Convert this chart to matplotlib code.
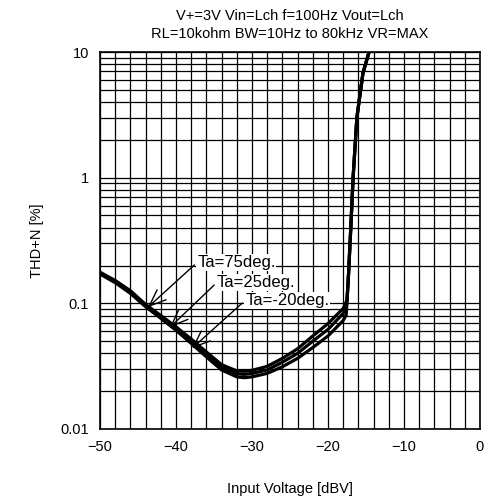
import numpy as np
import matplotlib.pyplot as plt
from matplotlib.ticker import FixedLocator, FuncFormatter

plt.rcParams['font.family'] = ['Liberation Sans', 'DejaVu Sans']

# ===============================
# data
# ===============================
x_low = [-50, -48, -46, -44, -42, -40, -38, -36, -34, -32, -31, -30,
         -28, -26, -24, -22, -20, -18, -17.6]
thd_75 = [0.177, 0.152, 0.126, 0.098, 0.080, 0.065, 0.052, 0.041, 0.0325,
          0.029, 0.0288, 0.0293, 0.0315, 0.0365, 0.0435, 0.055, 0.069, 0.091, 0.103]
thd_25 = [0.174, 0.149, 0.123, 0.096, 0.078, 0.063, 0.050, 0.039, 0.031,
          0.0275, 0.0272, 0.0277, 0.0295, 0.034, 0.040, 0.050, 0.062, 0.083, 0.092]
thd_m20 = [0.171, 0.146, 0.120, 0.094, 0.076, 0.061, 0.048, 0.0375, 0.0295,
           0.026, 0.0256, 0.026, 0.0277, 0.0313, 0.0365, 0.0445, 0.055, 0.073, 0.081]

# common clipping rise
x_rise = [-17.5, -17.3, -17.0, -16.7, -16.2, -15.9, -15.4, -14.6]
thd_rise = [0.105, 0.17, 0.40, 1.0, 3.0, 4.1, 6.8, 10.0]

labels = ["Ta=75deg.", "Ta=25deg.", "Ta=-20deg."]
label_xy = [(-37.2, 0.212), (-34.6, 0.147), (-30.9, 0.1055)]
tip_xy = [(-43.7, 0.093), (-40.8, 0.0644), (-37.9, 0.0438)]

title = "V+=3V Vin=Lch f=100Hz Vout=Lch\nRL=10kohm BW=10Hz to 80kHz VR=MAX"

# ===============================
# plot
# ===============================
fig = plt.figure(figsize=(4.84, 5.01), dpi=100)
ax = fig.add_axes([100 / 484, 1 - 429 / 501, 380 / 484, 377 / 501])

for ys in (thd_75, thd_25, thd_m20):
    ax.plot(x_low + x_rise, ys + thd_rise, color="black", lw=2.3,
            solid_joinstyle="round", zorder=3)

ax.set_yscale("log")
ax.set_xlim(-50, 0)
ax.set_ylim(0.01, 10)

# grid: every 2 dB vertically, 1-9 per decade horizontally
ax.xaxis.set_major_locator(FixedLocator(np.arange(-50, 1, 10)))
ax.xaxis.set_minor_locator(FixedLocator(np.arange(-50, 1, 2)))
dec = [0.01, 0.1, 1, 10]
ax.yaxis.set_major_locator(FixedLocator(dec))
ax.yaxis.set_minor_locator(FixedLocator([d * k for d in dec[:-1] for k in range(2, 10)]))
ax.yaxis.set_major_formatter(FuncFormatter(lambda v, p: "%g" % v))
ax.yaxis.set_minor_formatter(FuncFormatter(lambda v, p: ""))
ax.grid(True, which="both", color="black", lw=0.9)
ax.tick_params(which="both", length=0, labelsize=10.5, pad=8)
for s in ax.spines.values():
    s.set_linewidth(1.2)

for txt, xy, tip in zip(labels, label_xy, tip_xy):
    ax.annotate(txt, xy=tip, xytext=xy, ha="left", va="center", fontsize=12,
                bbox=dict(boxstyle="square,pad=0.05", fc="white", ec="none"),
                arrowprops=dict(arrowstyle="->,head_length=1.0,head_width=0.4",
                                color="black", lw=1.0, relpos=(0, 0.5),
                                shrinkA=2, shrinkB=0),
                zorder=4)

ax.set_title(title, fontsize=10.5, pad=10, linespacing=1.4)
ax.set_xlabel("Input Voltage [dBV]", fontsize=10.5, labelpad=20)
ax.set_ylabel("THD+N [%]", fontsize=10.5, labelpad=12)

fig.savefig("out.png", dpi=100)
